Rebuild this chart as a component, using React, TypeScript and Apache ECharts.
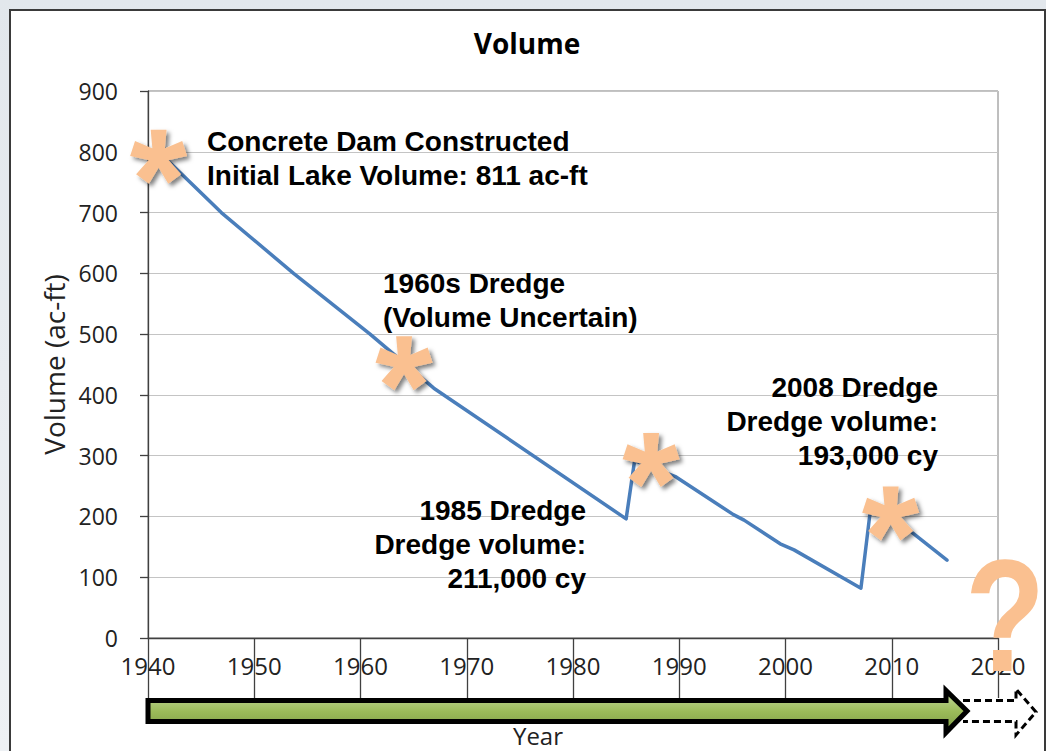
import React, { useEffect, useRef } from "react";
import * as echarts from "echarts";

// ---- data ----
const lineYears = [1941.0, 1946.9, 1953.7, 1960.9, 1966.9, 1985.0, 1985.8, 1989.7, 1993.0, 1995.1, 1996.1, 1999.5, 2000.8, 2007.1, 2008.0, 2011.6, 2015.2];
const lineVolumes = [800, 700, 600, 500, 411, 196, 292, 265, 227, 203, 194, 155, 145, 82, 212, 178, 128];

const dredgeYears = [1941.0, 1964.1, 1987.35, 2009.9];
const dredgeVolumes = [792, 452, 293, 205];

const xMin = 1940;
const xMax = 2020;
const xStep = 10;
const yMin = 0;
const yMax = 900;
const yStep = 100;

const titleText = "Volume";
const xName = "Year";
const yName = "Volume (ac-ft)";

const note1 = ["Concrete Dam Constructed", "Initial Lake Volume: 811 ac-ft"];
const note2 = ["1960s Dredge", "(Volume Uncertain)"];
const note3 = ["1985 Dredge", "Dredge volume:", "211,000 cy"];
const note4 = ["2008 Dredge", "Dredge volume:", "193,000 cy"];

function asteriskPath(): string {
  const cx = 50, cy = 50, L = 50, w0 = 20, w1 = 29;
  let d = "path://";
  for (let i = 0; i < 5; i++) {
    const t = (i * 72 * Math.PI) / 180;
    const dx = Math.sin(t), dy = -Math.cos(t);
    const px = Math.cos(t), py = Math.sin(t);
    const p = [
      [cx + px * w0 / 2, cy + py * w0 / 2],
      [cx + dx * L + px * w1 / 2, cy + dy * L + py * w1 / 2],
      [cx + dx * L - px * w1 / 2, cy + dy * L - py * w1 / 2],
      [cx - px * w0 / 2, cy - py * w0 / 2],
    ];
    d += `M${p[0][0].toFixed(2)} ${p[0][1].toFixed(2)}L${p[1][0].toFixed(2)} ${p[1][1].toFixed(2)}L${p[2][0].toFixed(2)} ${p[2][1].toFixed(2)}L${p[3][0].toFixed(2)} ${p[3][1].toFixed(2)}Z`;
  }
  return d;
}

const NOTE_FONT = 'bold 28px "Liberation Sans", Arial, sans-serif';
const PEACH = "#fac090";

export default function App() {
  const ref = useRef<HTMLDivElement>(null);

  useEffect(() => {
    if (!ref.current) return;
    const chart = echarts.init(ref.current, null, { renderer: "svg" });
    const noteStyle = (lines: string[], x: number, y: number, align: string) => ({
      type: "text",
      z: 50,
      style: {
        text: lines.join("\n"),
        x,
        y,
        font: NOTE_FONT,
        fill: "#000",
        textAlign: align,
        textVerticalAlign: "middle",
        lineHeight: 34,
      },
    });
    chart.setOption({
      animation: false,
      backgroundColor: "transparent",
      grid: {
        left: 148,
        right: 48,
        top: 91,
        bottom: 113,
        show: true,
        borderColor: "#7f7f7f",
        borderWidth: 1,
        backgroundColor: "transparent",
      },
      xAxis: {
        type: "value",
        min: xMin,
        max: xMax,
        interval: xStep,
        axisLine: { show: true, onZero: false, lineStyle: { color: "#404040", width: 1.3 } },
        axisTick: { show: true, length: 60, lineStyle: { color: "#404040", width: 1.3 } },
        axisLabel: {
          margin: 15,
          fontSize: 24,
          color: "#222",
          fontFamily: '"Open Sans", sans-serif',
          formatter: (v: number) => String(v),
        },
        splitLine: { show: false },
      },
      yAxis: {
        type: "value",
        min: yMin,
        max: yMax,
        interval: yStep,
        axisLine: { show: true, lineStyle: { color: "#404040", width: 1.3 } },
        axisTick: { show: true, length: 8, lineStyle: { color: "#404040", width: 1.3 } },
        axisLabel: {
          margin: 30,
          fontSize: 23,
          color: "#222",
          fontFamily: '"Open Sans", sans-serif',
        },
        splitLine: { show: true, lineStyle: { color: "#c4c4c4", width: 1 } },
        name: yName,
        nameLocation: "middle",
        nameGap: 78,
        nameRotate: 90,
        nameTextStyle: { fontSize: 28, color: "#222", fontFamily: '"Open Sans", sans-serif' },
      },
      series: [
        {
          type: "line",
          data: lineYears.map((y, i) => [y, lineVolumes[i]]),
          symbol: "none",
          showSymbol: false,
          lineStyle: { color: "#4a7ebb", width: 3.5, join: "round", cap: "round" },
          z: 2,
          silent: true,
        },
        {
          type: "scatter",
          data: dredgeYears.map((y, i) => [y, dredgeVolumes[i]]),
          symbol: asteriskPath(),
          symbolSize: [57, 54],
          symbolKeepAspect: false,
          itemStyle: {
            color: PEACH,
            shadowBlur: 4,
            shadowColor: "rgba(0,0,0,0.5)",
            shadowOffsetX: 3,
            shadowOffsetY: 3,
            opacity: 1,
          },
          z: 3,
          silent: true,
        },
      ],
      graphic: [
        {
          type: "text",
          z: 50,
          style: {
            text: titleText,
            x: 527,
            y: 43,
            font: 'bold 28px "Open Sans", sans-serif',
            fill: "#000",
            textAlign: "center",
            textVerticalAlign: "middle",
          },
        },
        {
          type: "text",
          z: 50,
          style: {
            text: xName,
            x: 538,
            y: 735,
            font: '24px "Open Sans", sans-serif',
            fill: "#222",
            textAlign: "center",
            textVerticalAlign: "middle",
          },
        },
        noteStyle(note1, 207, 158, "left"),
        noteStyle(note2, 383, 300.5, "left"),
        noteStyle(note3, 586, 544, "right"),
        noteStyle(note4, 938, 421, "right"),
        {
          type: "polyline",
          z: 40,
          shape: {
            points: [[963, 700.5], [1016, 700.5], [1016, 689], [1036, 712], [1016, 735], [1016, 721.5], [963, 721.5]],
          },
          style: { stroke: "#000", lineWidth: 3, lineDash: [7, 4], fill: "none" },
        },
        {
          type: "polygon",
          z: 41,
          shape: {
            points: [[148, 700.5], [946, 700.5], [946, 690.5], [967, 711], [946, 732.5], [946, 721.5], [148, 721.5]],
          },
          style: {
            fill: {
              type: "linear",
              x: 0, y: 0, x2: 0, y2: 1,
              colorStops: [
                { offset: 0, color: "#c6daa0" },
                { offset: 0.5, color: "#9bbb59" },
                { offset: 1, color: "#7c9a45" },
              ],
            },
            stroke: "#000",
            lineWidth: 5,
            lineJoin: "miter",
          },
        },
        {
          type: "text",
          z: 60,
          x: 1005,
          y: 616,
          scaleX: 0.82,
          style: {
            text: "?",
            x: 0,
            y: 0,
            font: 'bold 160px "Liberation Sans", Arial, sans-serif',
            fill: PEACH,
            textAlign: "center",
            textVerticalAlign: "middle",
            shadowBlur: 3,
            shadowColor: "rgba(0,0,0,0.35)",
            shadowOffsetX: 2,
            shadowOffsetY: 2,
          },
        },
      ],
    });
    return () => chart.dispose();
  }, []);

  return (
    <div style={{ position: "absolute", left: 0, top: 0, width: 1046, height: 751, overflow: "hidden", background: "linear-gradient(180deg, #e2e7ec 0%, #eef1f4 100%)" }}>
      <div style={{ position: "absolute", left: 9, top: 9, width: 1033, height: 760, background: "#fff", borderLeft: "2px solid #3a3a3a", borderTop: "2px solid #3a3a3a", borderRight: "2px solid #3a3a3a" }} />
      <div ref={ref} style={{ position: "absolute", left: 0, top: 0, width: 1046, height: 751 }} />
    </div>
  );
}
